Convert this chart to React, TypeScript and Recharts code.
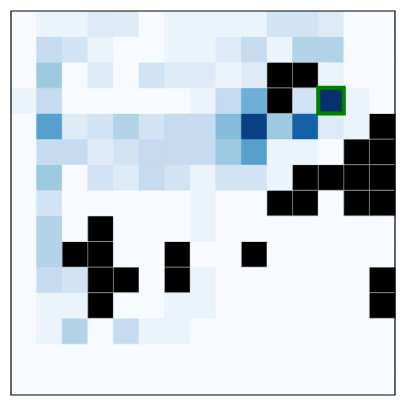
import { ComposedChart, Bar, XAxis, YAxis, Cell, ReferenceArea } from "recharts";

// visit counts per cell, row 0 is the top row; -1 marks a wall (drawn black)
const grid: number[][] = [
  [0, 1, 1, 2, 2, 0, 1, 1, 1, 1, 3, 3, 2, 0, 0],
  [0, 4, 3, 1, 0, 0, 1, 1, 2, 4, 1, 5, 5, 0, 0],
  [0, 6, 0, 2, 0, 3, 2, 2, 1, 2, -1, -1, 1, 0, 0],
  [1, 4, 0, 0, 0, 0, 0, 1, 4, 8, -1, 3, 16, 1, 0],
  [0, 9, 2, 3, 5, 3, 4, 4, 7, 15, 6, 13, 2, 1, -1],
  [0, 4, 4, 2, 3, 4, 4, 4, 6, 9, 1, 1, 0, -1, -1],
  [0, 6, 0, 3, 2, 4, 3, 1, 3, 3, 1, -1, -1, -1, -1],
  [0, 3, 0, 0, 0, 0, 0, 1, 0, 0, -1, -1, 0, -1, -1],
  [0, 5, 0, -1, 0, 0, 0, 1, 0, 0, 0, 0, 0, 0, 0],
  [0, 5, -1, -1, 0, 0, -1, 0, 0, -1, 0, 0, 0, 0, 0],
  [0, 4, 3, -1, -1, 0, -1, 1, 0, 0, 0, 0, 0, 0, -1],
  [0, 1, 1, -1, 0, 0, 1, 1, 0, 0, 0, 0, 0, 0, -1],
  [0, 1, 5, 0, 4, 1, 1, 0, 0, 0, 0, 0, 0, 0, 0],
  [0, 0, 0, 0, 0, 0, 0, 0, 0, 0, 0, 0, 0, 0, 0],
  [0, 0, 0, 0, 0, 0, 0, 0, 0, 0, 0, 0, 0, 0, 0],
];
const maxCount = 16;
const goal = { row: 3, col: 12 };

const rows = grid.map((_, i) => i);
const cols = grid[0].map((_, i) => i);

const BLUES = ["#f7fbff", "#deebf7", "#c6dbef", "#9ecae1", "#6baed6", "#4292c6", "#2171b5", "#08519c", "#08306b"];

function hex(c: string) {
  return [1, 3, 5].map((i) => parseInt(c.slice(i, i + 2), 16));
}

function blues(t: number) {
  const p = Math.max(0, Math.min(1, t)) * (BLUES.length - 1);
  const i = Math.min(Math.floor(p), BLUES.length - 2);
  const f = p - i;
  const a = hex(BLUES[i]);
  const b = hex(BLUES[i + 1]);
  const c = a.map((v, k) => Math.round(v + (b[k] - v) * f));
  return `rgb(${c[0]},${c[1]},${c[2]})`;
}

const data = cols.map((c) => {
  const d: Record<string, number> = { col: c };
  rows.forEach((r) => (d[`r${r}`] = 1));
  return d;
});

const W = 397;
const H = 397;
const margin = { top: 3, left: 3, right: 10, bottom: 10 };

export default function App() {
  // stack from the bottom row up
  const stackRows = [...rows].reverse();
  const n = grid.length;
  return (
    <div style={{ position: "relative", width: W, height: H }}>
      <ComposedChart width={W} height={H} data={data} margin={margin} barCategoryGap={0} barGap={0}>
        <XAxis dataKey="col" type="category" hide />
        <YAxis type="number" domain={[0, n]} hide allowDataOverflow />
        {stackRows.map((r) => (
          <Bar key={r} dataKey={`r${r}`} stackId="g" isAnimationActive={false}>
            {cols.map((c) => {
              const v = grid[r][c];
              const fill = v < 0 ? "#000" : blues(v / maxCount);
              return (
                <Cell
                  key={c}
                  fill={fill}
                  stroke={v < 0 ? "#aaa" : fill}
                  strokeWidth={v < 0 ? 0.6 : 0.5}
                />
              );
            })}
          </Bar>
        ))}
      </ComposedChart>
      {/* overlay: goal highlight and frame on top of the cells */}
      <div style={{ position: "absolute", left: 0, top: 0 }}>
        <ComposedChart width={W} height={H} data={data} margin={margin}>
          <XAxis type="number" dataKey="col" domain={[0, cols.length]} hide allowDataOverflow />
          <YAxis type="number" domain={[0, n]} hide allowDataOverflow />
          <ReferenceArea
            x1={goal.col}
            x2={goal.col + 1}
            y1={n - 1 - goal.row}
            y2={n - goal.row}
            fill="none"
            fillOpacity={0}
            stroke="#008000"
            strokeWidth={4}
            ifOverflow="visible"
          />
          <ReferenceArea
            x1={0}
            x2={cols.length}
            y1={0}
            y2={n}
            fill="none"
            fillOpacity={0}
            stroke="#000"
            strokeWidth={1.2}
          />
        </ComposedChart>
      </div>
    </div>
  );
}
